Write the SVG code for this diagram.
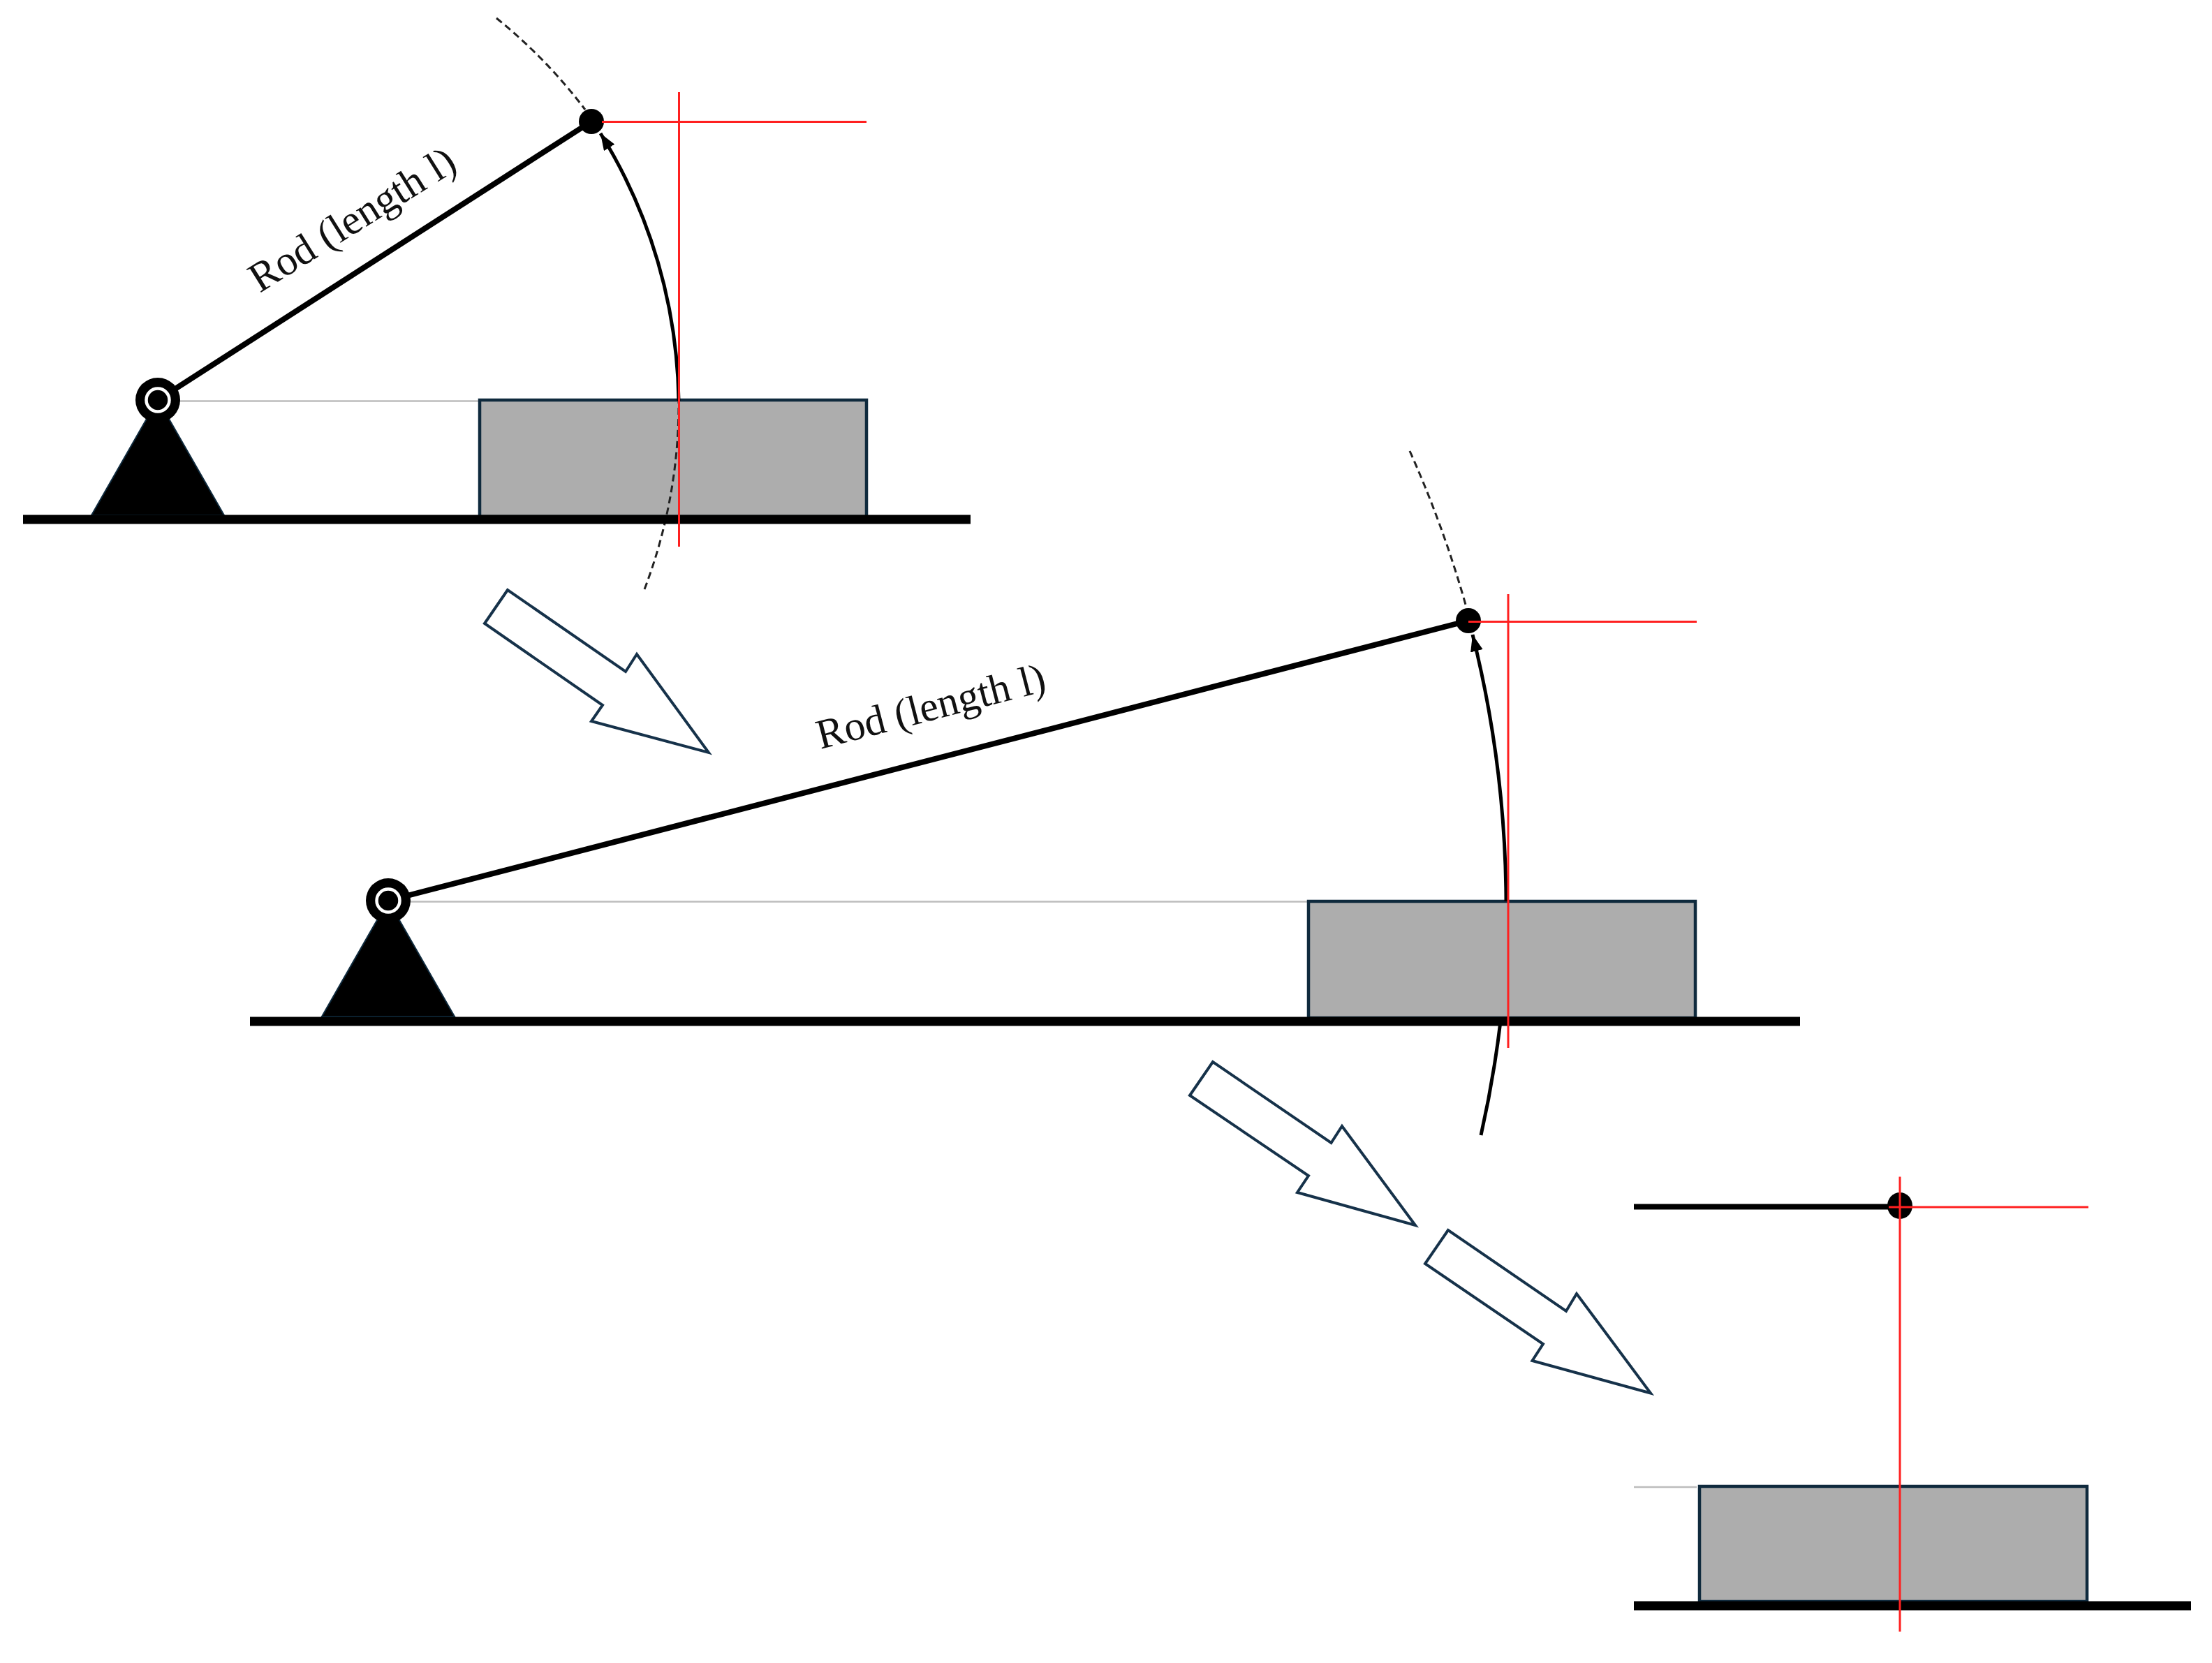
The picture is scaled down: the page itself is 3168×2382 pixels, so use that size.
<svg xmlns="http://www.w3.org/2000/svg" width="3168" height="2382" viewBox="0 0 3168 2382">
<style>
.ground{fill:none;stroke:#000;stroke-width:13}
.rod{fill:none;stroke:#000;stroke-width:8}
.thin{fill:none;stroke:#bdbdbd;stroke-width:2.5}
.block{fill:#adadad;stroke:#0f2a3d;stroke-width:4.5}
.tri{fill:#000;stroke:#0f2a3d;stroke-width:2}
.red{fill:none;stroke:#ff2020;stroke-width:3}
.arc{fill:none;stroke:#000;stroke-width:5}
.dash{fill:none;stroke:#222;stroke-width:3;stroke-dasharray:10 6}
.big{fill:#fff;stroke:#16324a;stroke-width:4;stroke-linejoin:miter}
.lab{font-family:"Liberation Serif",serif;font-size:60px;fill:#111}
</style>
<defs>
<marker id="ah" markerUnits="userSpaceOnUse" markerWidth="26" markerHeight="20" refX="24" refY="9" orient="auto"><path d="M0 0L24 9L0 18z" fill="#000"/></marker>
</defs>
<rect width="3168" height="2382" fill="#fff"/>
<g id="connectors">
<path class="thin" d="M226 574.5H690"/>
<path class="thin" d="M556 1291.500H1876"/>
<path class="thin" d="M2340 2130H2430"/>
<path class="dash" d="M711 26A745 745 0 0 1 838 157"/>
<path class="dash" d="M2019 646A1600 1600 0 0 1 2099 866"/>
<path class="arc" d="M2121 1626A1600 1600 0 0 0 2149 1463"/>
</g>
<g id="scene1">
<rect class="block" x="687" y="573" width="554" height="167"/>
<path class="dash" d="M923 844A745 745 0 0 0 972 574"/>
<path class="arc" d="M972 574A745 745 0 0 0 860 191" marker-end="url(#ah)"/>
<path class="tri" d="M131 738L226 572L321 738Z"/>
<path class="ground" d="M33 744H1390"/>
<path class="rod" d="M226 573L847 174"/>
<circle cx="226" cy="573" r="32" fill="#000"/>
<circle cx="226" cy="573" r="16.500" fill="none" stroke="#fff" stroke-width="4.500"/>
<circle cx="847" cy="174" r="18" fill="#000"/>
<path class="red" d="M862 174.500H1241M972.500 132V783"/>
<text class="lab" transform="translate(372 420) rotate(-32)">Rod (length l)</text>
</g>
<g id="scene2">
<rect class="block" x="1874" y="1291" width="554" height="167"/>
<path class="arc" d="M2157 1291A1600 1600 0 0 0 2109 909" marker-end="url(#ah)"/>
<path class="tri" d="M461 1456L556 1290L651 1456Z"/>
<path class="ground" d="M358 1463H2578"/>
<path class="rod" d="M556 1290L2103 889"/>
<circle cx="556" cy="1290" r="32" fill="#000"/>
<circle cx="556" cy="1290" r="16.500" fill="none" stroke="#fff" stroke-width="4.500"/>
<circle cx="2103" cy="889" r="18" fill="#000"/>
<path class="red" d="M2103 890.500H2430M2160 851V1501"/>
<text class="lab" transform="translate(1175 1073) rotate(-14.500)">Rod (length l)</text>
</g>
<g id="scene3">
<rect class="block" x="2434" y="2129" width="555" height="165"/>
<path class="ground" d="M2340 2300H3138"/>
<path class="rod" d="M2340 1728.500H2721"/>
<ellipse cx="2721" cy="1727" rx="18" ry="19" fill="#000"/>
<path class="red" d="M2705 1729H2991M2721 1685.500V2337"/>
</g>
<g id="arrow1"><path class="big" d="M727 845L694 893L863 1010L847 1033L1015 1078L912 937L896 962Z"/></g>
<g id="arrow2"><path class="big" d="M1737 1521L1704 1569L1874 1684L1858 1708L2027 1755L1922 1613L1906.500 1637Z"/></g>
<g id="arrow3"><path class="big" d="M2074 1762L2041 1810L2210 1925L2194.500 1949L2364 1995.500L2258 1853L2243 1878Z"/></g>
</svg>
